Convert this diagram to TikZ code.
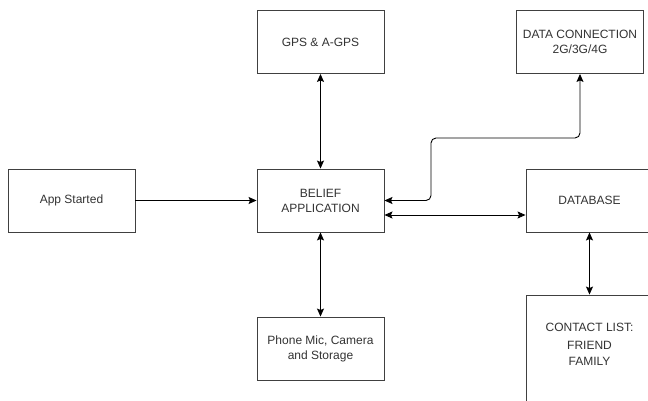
\documentclass[tikz,border=0pt]{standalone}
\usepackage{fontspec}
\setmainfont{Liberation Sans}
\usepackage{tikz}
\usetikzlibrary{arrows.meta}

\begin{document}
\begin{tikzpicture}[x=1pt,y=-1pt,
  block/.style={rectangle, draw=black!75, line width=0.9pt, fill=white,
    minimum width=127pt, minimum height=63pt, inner sep=2pt, align=center,
    text=black!80, font=\fontsize{12}{15}\selectfont},
  link/.style={line width=0.9pt, {Stealth[length=8pt,width=7pt,inset=1.5pt]}-{Stealth[length=8pt,width=7pt,inset=1.5pt]}},
  onelink/.style={line width=0.9pt, -{Stealth[length=8pt,width=7pt,inset=1.5pt]}}]
\useasboundingbox (0,0) rectangle (648,401);
\clip (0,0) rectangle (648,401);
% places blocks
\node[block] (gps) at (320.5,42) {GPS \& A-GPS};
\node[block] (data) at (580,42) {DATA CONNECTION\\2G/3G/4G};
\node[block] (app) at (71.5,200.5) {App Started};
\node[block] (belief) at (320.5,200.5) {BELIEF\\APPLICATION};
\node[block] (db) at (589.5,200.5) {DATABASE};
\node[block] (phone) at (320.5,348.5) {Phone Mic, Camera\\and Storage};
\node[block, minimum height=125pt] (contact) at (589.5,357.5) {};
\node[align=center, text=black!80, font=\fontsize{12}{15.5}\selectfont] (contacttext) at (589.5,344) {CONTACT LIST:\\[3pt]FRIEND\\FAMILY};
% bend of the data line
\coordinate (k1) at (431,138);
% draws connectors
\draw[onelink] (app) -- (belief);
\draw[link] (gps) -- (belief);
\draw[link] (belief) -- (phone);
\draw[link, rounded corners=5pt] (belief.east) -| (k1) -| (data.south);
\draw[link] ([yshift=-14.5pt]belief.east) -- ([yshift=-14.5pt]db.west);
\draw[link] (db) -- (contact);
\end{tikzpicture}
\end{document}
